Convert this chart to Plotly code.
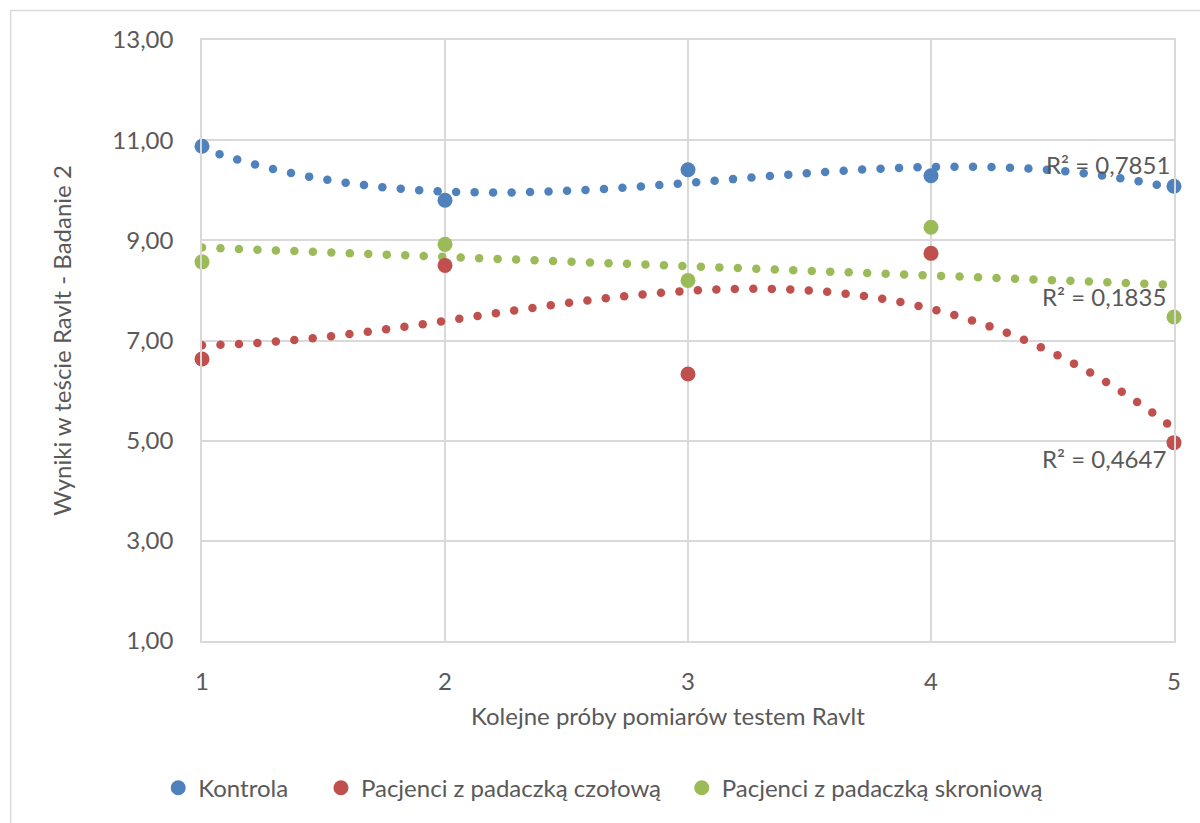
import numpy as np
import plotly.graph_objects as go

# ---------------- data ----------------
trials = [1, 2, 3, 4, 5]
kontrola = [10.88, 9.80, 10.41, 10.29, 10.08]
czolowa = [6.63, 8.50, 6.33, 8.74, 4.96]
skroniowa = [8.57, 8.92, 8.20, 9.26, 7.47]

series_names = ["Kontrola", "Pacjenci z padaczką czołową", "Pacjenci z padaczką skroniową"]
trend_degrees = [3, 3, 1]
r2_labels = ["R² = 0,7851", "R² = 0,4647", "R² = 0,1835"]
x_ticks = [1, 2, 3, 4, 5]
y_ticks = [1, 3, 5, 7, 9, 11, 13]
x_title = "Kolejne próby pomiarów testem Ravlt"
y_title = "Wyniki w teście Ravlt - Badanie 2"

# ---------------- style ----------------
colors = ["#4F81BD", "#C0504D", "#9BBB59"]
TXT = "#595959"
GRID = "#D9D9D9"
FONT = "Lato"
FS = 24

W, H = 1200, 823
PL, PR, PT, PB = 201.5, 1174.0, 40.0, 643.0   # plot-area pixel edges
XR = [1, 5]
YR = [1, 13]
PX_X = (PR - PL) / (XR[1] - XR[0])
PX_Y = (PB - PT) / (YR[1] - YR[0])
DOT_SPACING = 18.5


def px2paper_x(px):
    return (px - PL) / (PR - PL)


def px2paper_y(py):
    return (PB - py) / (PB - PT)


def dotted_trend(xv, yv, deg):
    coefs = np.polyfit(xv, yv, deg)
    xs = np.linspace(XR[0], XR[1], 8001)
    ys = np.polyval(coefs, xs)
    seg = np.hypot(np.diff(xs) * PX_X, np.diff(ys) * PX_Y)
    s = np.concatenate([[0.0], np.cumsum(seg)])
    t = np.arange(0.0, s[-1] + 0.01, DOT_SPACING)
    xd = np.interp(t, s, xs)
    return xd, np.polyval(coefs, xd)


fig = go.Figure()
all_series = [kontrola, czolowa, skroniowa]
legend_ids = ["legend", "legend2", "legend3"]

# trendlines (dotted, drawn as evenly spaced round dots)
for yv, deg, c in zip(all_series, trend_degrees, colors):
    xd, yd = dotted_trend(np.array(trials, float), np.array(yv, float), deg)
    fig.add_trace(go.Scatter(x=xd, y=yd, mode="markers",
                             marker=dict(size=8.5, color=c, line=dict(width=0)),
                             showlegend=False, hoverinfo="skip", cliponaxis=True))

# data points
for yv, name, c, lg in zip(all_series, series_names, colors, legend_ids):
    fig.add_trace(go.Scatter(x=trials, y=yv, mode="markers", name=name,
                             marker=dict(size=15, color=c, line=dict(width=0)),
                             cliponaxis=False, legend=lg))

# R² labels
r2_pos = [(10.51, -2), (4.64, -6), (7.87, -6)]
for lab, (yy, xs) in zip(r2_labels, r2_pos):
    fig.add_annotation(x=XR[1], y=yy, xref="x", yref="y", text=lab, showarrow=False,
                       xanchor="right", yanchor="middle", xshift=xs,
                       font=dict(family=FONT, size=FS, color=TXT))

# x-axis title (placed as in the reference, slightly left of centre)
fig.add_annotation(x=px2paper_x(668), y=px2paper_y(718), xref="paper", yref="paper",
                   text=x_title, showarrow=False, xanchor="center", yanchor="middle",
                   font=dict(family=FONT, size=FS, color=TXT))

# outer chart border
fig.add_shape(type="rect", xref="paper", yref="paper",
              x0=px2paper_x(10), x1=px2paper_x(1230), y0=px2paper_y(10.5), y1=px2paper_y(860),
              line=dict(color=GRID, width=1.5), fillcolor="rgba(0,0,0,0)", layer="below")

axis_common = dict(showgrid=True, gridcolor=GRID, gridwidth=1.5, zeroline=False,
                   showline=True, linecolor=GRID, linewidth=1.5, mirror=True,
                   ticks="", tickfont=dict(family=FONT, size=FS, color=TXT),
                   automargin=False)

legend_centers = [177.7, 340.5, 701.5]
legend_layouts = {}
for lg, cx in zip(legend_ids, legend_centers):
    legend_layouts[lg] = dict(orientation="h", x=px2paper_x(cx - 20), xanchor="left",
                              y=px2paper_y(790.7), yanchor="middle",
                              font=dict(family=FONT, size=FS, color=TXT),
                              bgcolor="rgba(0,0,0,0)", borderwidth=0)

fig.update_layout(
    width=W, height=H,
    margin=dict(l=PL, r=W - PR, t=PT, b=H - PB, pad=0),
    paper_bgcolor="white", plot_bgcolor="white",
    separators=", ",
    font=dict(family=FONT, size=FS, color=TXT),
    xaxis=dict(range=XR, tickvals=x_ticks, ticklabelstandoff=18, **axis_common),
    yaxis=dict(range=YR, tickvals=y_ticks, tickformat=".2f", ticklabelstandoff=22,
               title=dict(text=y_title, standoff=34, font=dict(family=FONT, size=FS, color=TXT)),
               **axis_common),
    **legend_layouts,
)

fig.write_html("out.html", config={"displayModeBar": False},
               post_script="document.body.style.margin='0';document.body.style.overflow='hidden';")
